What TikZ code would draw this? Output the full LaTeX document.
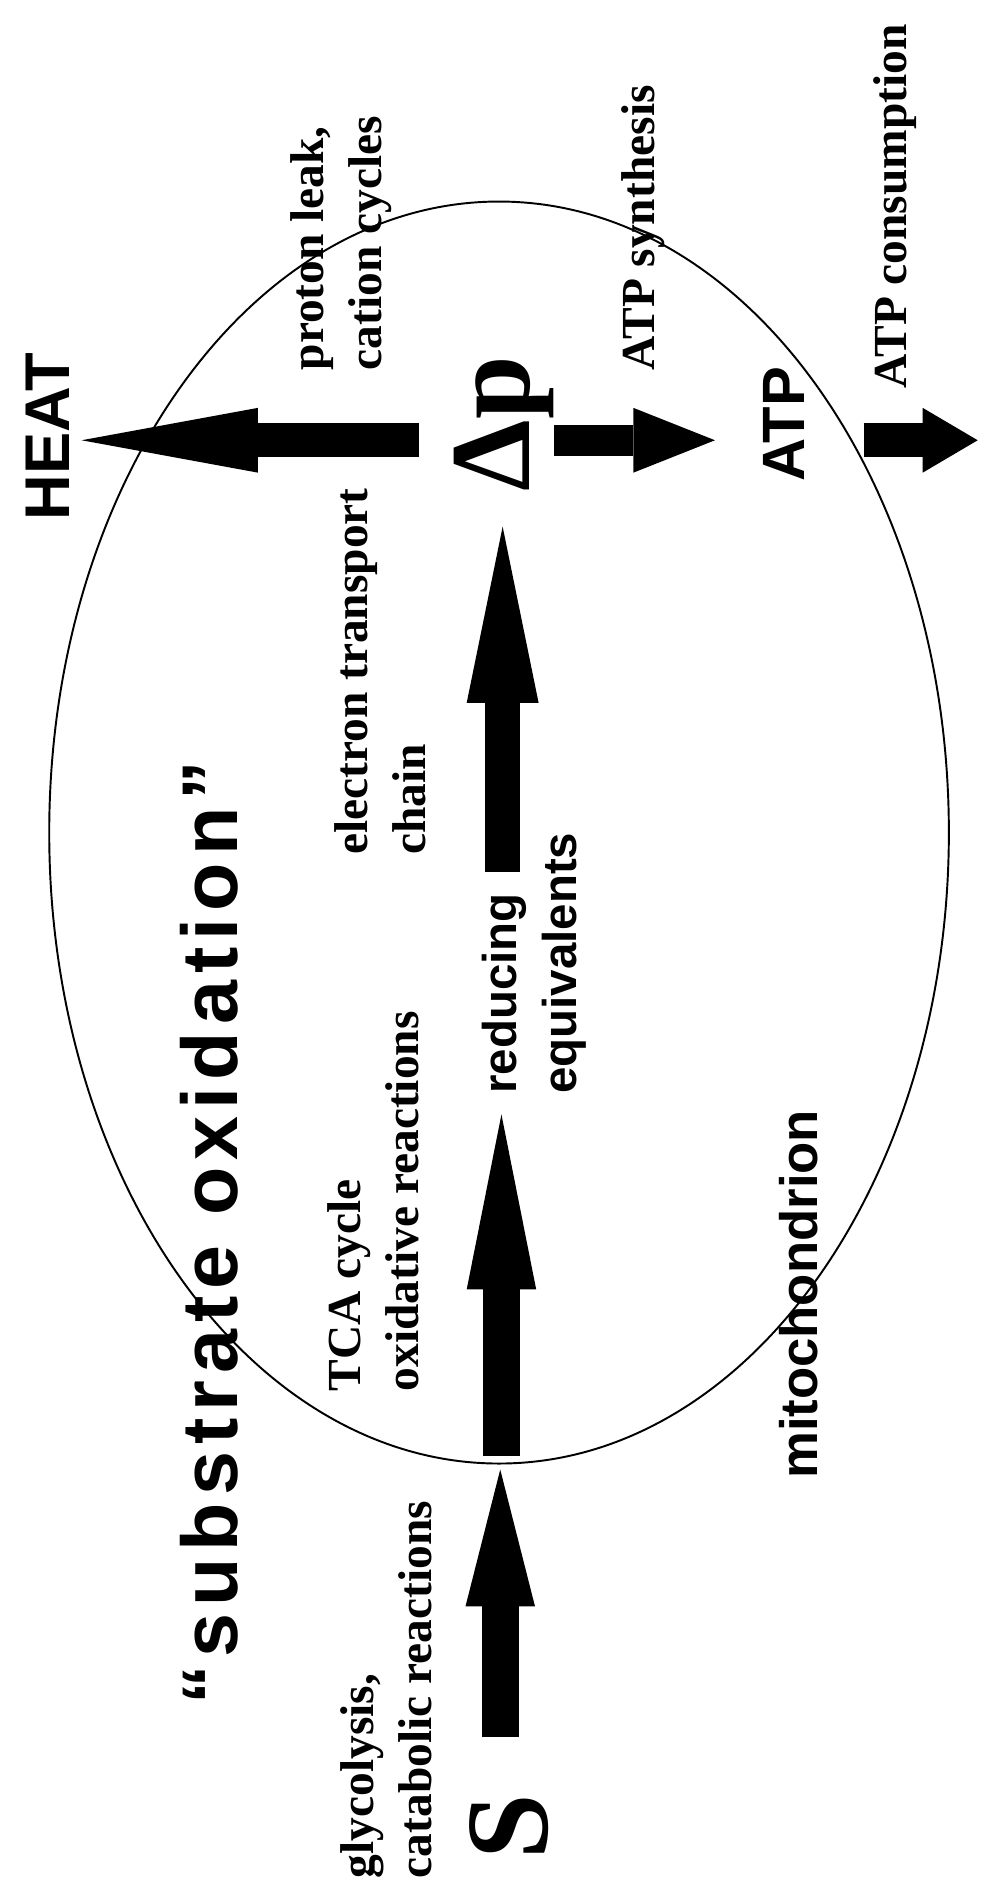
\documentclass[tikz,border=0pt]{standalone}
\usepackage{fontspec}
\setmainfont{Liberation Serif}
\setsansfont{Liberation Sans}
\newfontfamily\spacedsans{Liberation Sans}[LetterSpace=9]
\usetikzlibrary{arrows.meta,shapes.geometric}

\begin{document}
\begin{tikzpicture}[x=0.024cm, y=-0.024cm,
	serifnote/.style={rotate=90, anchor=north west, inner sep=0pt, align=left, font=\bfseries\fontsize{27}{33}\selectfont},
	sansnote/.style={rotate=90, anchor=north west, inner sep=0pt, align=left, font=\sffamily\bfseries#1},
	fat/.style n args={3}{line width=#1, -{Triangle[length=#2, width=#3, line width=0pt]}}]
	\fill[white] (0,0) rectangle (824,1568);
	\useasboundingbox (0,0) rectangle (824,1568);
	\node (mito) at (416, 694)	[ellipse, draw, line width=1.1pt, minimum width=18cm, minimum height=25.25cm, inner sep=0pt]	{};

	\node (heat) at ( 21,  434)	[sansnote={\fontsize{36}{43}\selectfont}]	{HEAT};
	\node (leak) at (242,  309)	[serifnote]	{proton leak,\\cation cycles};
	\node (dp)   at (378,  410)	[serifnote, font=\bfseries\fontsize{65}{70}\selectfont]	{Δp};
	\node (syn)  at (518,  309)	[serifnote]	{ATP synthesis};
	\node (atp)  at (636,  402)	[sansnote={\fontsize{34}{40}\selectfont}]	{ATP};
	\node (cons) at (728,  324)	[serifnote]	{ATP consumption};
	\node (etc)  at (279,  713)	[serifnote]	{electron transport\\chain};
	\node (red)  at (402,  912)	[sansnote={\fontsize{27}{34}\selectfont}]	{reducing\\equivalents};
	\node (tca)  at (273, 1160)	[serifnote]	{TCA cycle\\oxidative reactions};
	\node (glyc) at (284, 1566)	[serifnote]	{glycolysis,\\catabolic reactions};
	\node (S)    at (391, 1550)	[serifnote, font=\bfseries\fontsize{67}{70}\selectfont]	{S};
	\node (subs) at (150, 1421)	[sansnote={\spacedsans\bfseries\fontsize{45}{54}\selectfont}]	{“substrate oxidation”};
	\node (mitotext) at (649, 1233)	[sansnote={\fontsize{30}{36}\selectfont}]	{mitochondrion};

	\coordinate (heatA) at (349,  367);
	\coordinate (heatB) at ( 68,  367);
	\coordinate (synA)  at (462,  367);
	\coordinate (synB)  at (596,  367);
	\coordinate (consA) at (720,  367);
	\coordinate (consB) at (815,  367);
	\coordinate (etcA)  at (419,  727);
	\coordinate (etcB)  at (419,  439);
	\coordinate (tcaA)  at (418, 1214);
	\coordinate (tcaB)  at (418,  929);
	\coordinate (glycA) at (417, 1448);
	\coordinate (glycB) at (417, 1225);

	\draw[fat={0.672cm}{3.528cm}{1.296cm}] (heatA) -- (heatB);
	\draw[fat={0.624cm}{1.632cm}{1.296cm}] (synA) -- (synB);
	\draw[fat={0.672cm}{1.1cm}{1.296cm}] (consA) -- (consB);
	\draw[fat={0.7cm}{3.528cm}{1.44cm}] (etcA) -- (etcB);
	\draw[fat={0.74cm}{3.5cm}{1.39cm}] (tcaA) -- (tcaB);
	\draw[fat={0.74cm}{2.736cm}{1.39cm}] (glycA) -- (glycB);
\end{tikzpicture}
\end{document}
